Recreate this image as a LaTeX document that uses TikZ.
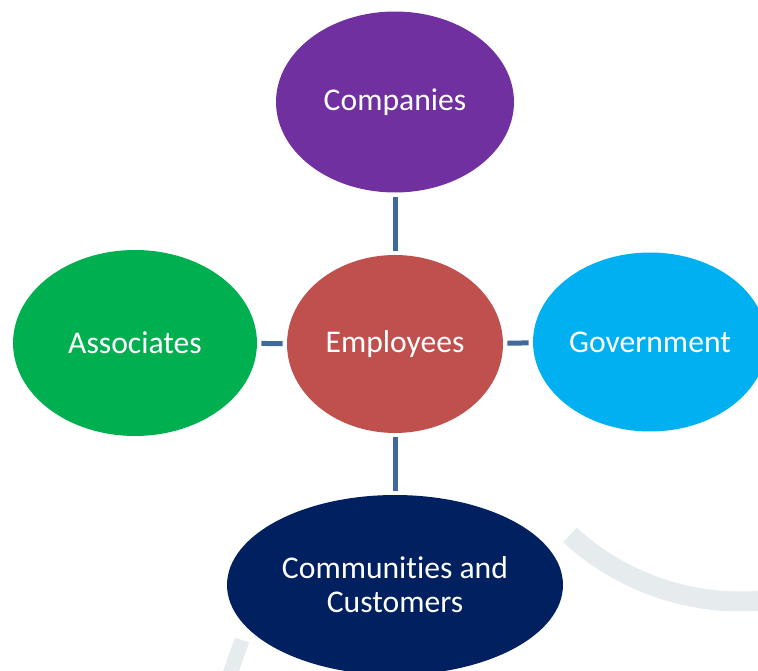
\documentclass[tikz,border=0pt]{standalone}
\usepackage{fontspec}
\setmainfont{Carlito}[RawFeature={-liga;-clig;-calt;-dlig}]
\usetikzlibrary{shapes.geometric}

\definecolor{linkblue}{HTML}{41689A}
\definecolor{wmgray}{HTML}{E6EBED}

\begin{document}
\begin{tikzpicture}[
  x=0.02cm, y=-0.02cm,
  bubble/.style={shape=ellipse, inner sep=0pt, text=white, align=center,
    font=\fontsize{18}{19.5}\selectfont},
  link/.style={draw=linkblue, line width=0.1cm, shorten <=0.08cm, shorten >=0.08cm}
  ]
  \useasboundingbox (0,0) rectangle (758,671);
  \clip (0,0) rectangle (758,671);
  % faint marks in the background
  \draw[wmgray, line width=0.4cm] (570,535) arc (132.6:85.9:252);
  \draw[wmgray, line width=0.3cm] (242,640) -- (228,680);
  % the five groups
  \node[bubble, fill={rgb,255:red,112;green,48;blue,160},
    minimum width=4.76cm, minimum height=3.62cm] (comp) at (395,102) {Companies};
  \node[bubble, fill={rgb,255:red,192;green,80;blue,77},
    minimum width=4.32cm, minimum height=3.56cm] (emp) at (395,344) {Employees};
  \node[bubble, fill={rgb,255:red,0;green,176;blue,80},
    minimum width=4.88cm, minimum height=3.72cm] (assoc) at (135,343) {Associates};
  \node[bubble, fill={rgb,255:red,0;green,176;blue,240},
    minimum width=4.68cm, minimum height=3.58cm] (gov) at (650,342) {Government};
  \node[bubble, fill={rgb,255:red,0;green,32;blue,96},
    minimum width=6.72cm, minimum height=3.6cm] (comm) at (395,585) {Communities and\\Customers};
  % links to the centre
  \draw[link] (comp) -- (emp);
  \draw[link] (assoc) -- (emp);
  \draw[link] (emp) -- (gov);
  \draw[link] (emp) -- (comm);
\end{tikzpicture}
\end{document}
